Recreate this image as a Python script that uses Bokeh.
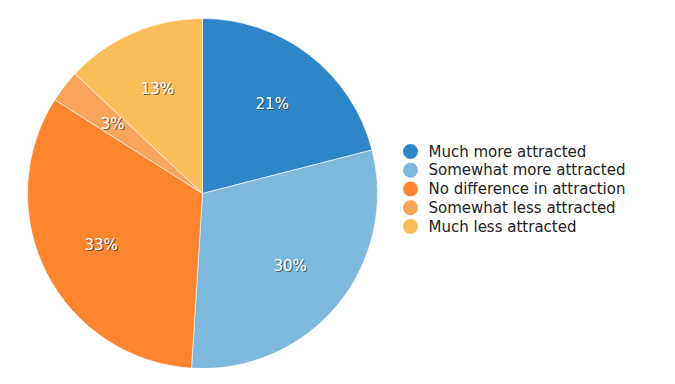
import numpy as np
from bokeh.plotting import figure
from bokeh.models import ColumnDataSource, Range1d
from bokeh.core.properties import value
from bokeh.embed import file_html
from bokeh.resources import INLINE

categories = ["Much more attracted", "Somewhat more attracted", "No difference in attraction",
              "Somewhat less attracted", "Much less attracted"]
percents = [21, 30, 33, 3, 13]
colors = ["#2e86c8", "#7db9dc", "#fe8530", "#f9a55c", "#fbbd5a"]

W, H = 659, 368
cx, cy, R = 202, 175, 175

vals = np.array(percents, dtype=float)
frac = vals / vals.sum()
cum = np.concatenate([[0], np.cumsum(frac)])
start = np.pi / 2 - cum[1:] * 2 * np.pi
end = np.pi / 2 - cum[:-1] * 2 * np.pi
mid = (start + end) / 2

src = ColumnDataSource(dict(
    cat=categories, color=colors, start=start, end=end,
    lx=cx + 0.65 * R * np.cos(mid), ly=cy + 0.65 * R * np.sin(mid),
    label=[f"{v}%" for v in percents],
    gx=[410] * len(categories), gy=[217 - 18.75 * i for i in range(len(categories))],
    tx=[428] * len(categories),
))

p = figure(width=W, height=H, output_backend="svg", toolbar_location=None,
           x_range=Range1d(0, W), y_range=Range1d(0, H), min_border=0)
p.axis.visible = False
p.grid.visible = False
p.outline_line_color = None
p.background_fill_color = "white"

p.wedge(x=cx, y=cy, radius=R, start_angle="start", end_angle="end",
        fill_color="color", line_color="white", line_width=0.6, source=src)

p.text(x="lx", y="ly", text="label", source=src, text_font=value("DejaVu Sans"),
       text_font_size="15px", text_color="#333333", text_alpha=0.7,
       text_align="center", text_baseline="middle", x_offset=1.2, y_offset=1.2)
p.text(x="lx", y="ly", text="label", source=src, text_font=value("DejaVu Sans"),
       text_font_size="15px", text_color="white",
       text_align="center", text_baseline="middle")

p.scatter(x="gx", y="gy", size=15, fill_color="color", line_color=None, source=src)
p.text(x="tx", y="gy", text="cat", source=src, text_font=value("DejaVu Sans"),
       text_font_size="15px", text_color="#222222", text_baseline="middle")

open("out.html", "w").write(file_html(p, INLINE))
